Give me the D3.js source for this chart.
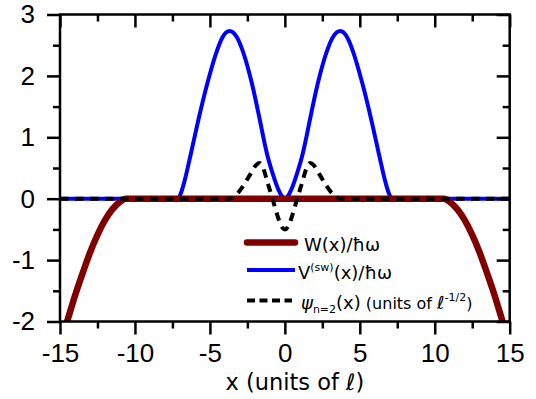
<!DOCTYPE html>
<html>
<head>
<meta charset="utf-8">
<script src="https://cdn.jsdelivr.net/npm/d3@7"></script>
<style>
  body { margin: 0; background: #fff; }
  .tick-label { font-family: "Liberation Sans", Arial, sans-serif; font-size: 26px; fill: #000; }
  .legend-text, .axis-title { font-family: "DejaVu Sans", Verdana, sans-serif; fill: #000; }
</style>
</head>
<body>
<div id="chart"></div>
<script>
// tick values
const xTicks = [-15, -10, -5, 0, 5, 10, 15];
const xMinorTicks = [-12.5, -7.5, -2.5, 2.5, 7.5, 12.5];
const yTicks = [-2, -1, 0, 1, 2, 3];
const yMinorTicks = [-1.5, -0.5, 0.5, 1.5, 2.5];

// V^(sw)(x)/hbar omega
const vX = [-15, -7.15, -6.95, -6.7, -6.3, -5.8, -5.2, -4.6, -4.2, -3.7, -3.2, -2.8, -2.2, -1.7, -1.45, -1.2, -0.8, -0.4, -0.2, 0,
  0.2, 0.4, 0.8, 1.2, 1.45, 1.7, 2.2, 2.8, 3.2, 3.7, 4.2, 4.6, 5.2, 5.8, 6.3, 6.7, 6.95, 7.15, 15];
const vY = [0, 0, 0.08, 0.28, 0.70, 1.25, 1.85, 2.36, 2.61, 2.73, 2.63, 2.40, 1.88, 1.32, 1.02, 0.74, 0.40, 0.13, 0.04, 0,
  0.04, 0.13, 0.40, 0.74, 1.02, 1.32, 1.88, 2.40, 2.63, 2.73, 2.61, 2.36, 1.85, 1.25, 0.70, 0.28, 0.08, 0, 0];

// psi_{n=2}(x)
const psiX = [-15, -3.7, -3.3, -2.8, -2.3, -1.95, -1.7, -1.45, -1.15, -0.8, -0.5, -0.25, 0,
  0.25, 0.5, 0.8, 1.15, 1.45, 1.7, 1.95, 2.3, 2.8, 3.3, 3.7, 15];
const psiY = [0, 0, 0.05, 0.2, 0.40, 0.54, 0.58, 0.50, 0.26, -0.02, -0.27, -0.44, -0.5,
  -0.44, -0.27, -0.02, 0.26, 0.50, 0.58, 0.54, 0.40, 0.2, 0.05, 0, 0];

// W(x)/hbar omega
const wX = [-15, -14.5, -14.0, -13.5, -13.0, -12.5, -12.0, -11.5, -11.0, -10.6,
  10.6, 11.0, 11.5, 12.0, 12.5, 13.0, 13.5, 14.0, 14.5, 15];
const wY = [-2.38, -1.98, -1.58, -1.22, -0.88, -0.59, -0.35, -0.17, -0.05, 0,
  0, -0.05, -0.17, -0.35, -0.59, -0.88, -1.22, -1.58, -1.98, -2.38];

const margin = { top: 14.5, right: 26.3, bottom: 77.5, left: 60 };
const width = 536 - margin.left - margin.right;
const height = 399 - margin.top - margin.bottom;

const svg = d3.select("#chart")
  .append("svg")
  .attr("width", 536)
  .attr("height", 399)
  .append("g")
  .attr("transform", `translate(${margin.left},${margin.top})`);

const x = d3.scaleLinear().domain([-15, 15]).range([0, width]);
const y = d3.scaleLinear().domain([-2, 3]).range([height, 0]);

svg.append("clipPath")
  .attr("id", "plot-clip")
  .append("rect")
  .attr("width", width)
  .attr("height", height);

const line = d3.line()
  .x(d => x(d[0]))
  .y(d => y(d[1]))
  .curve(d3.curveMonotoneX);

const plot = svg.append("g").attr("clip-path", "url(#plot-clip)");

plot.append("path")
  .datum(d3.zip(vX, vY))
  .attr("d", line)
  .attr("fill", "none")
  .attr("stroke", "#0000ff")
  .attr("stroke-width", 4);

plot.append("path")
  .datum(d3.zip(wX, wY))
  .attr("d", line)
  .attr("fill", "none")
  .attr("stroke", "#800000")
  .attr("stroke-width", 6.5);

plot.append("path")
  .datum(d3.zip(psiX, psiY))
  .attr("d", line)
  .attr("fill", "none")
  .attr("stroke", "#000")
  .attr("stroke-width", 4)
  .attr("stroke-dasharray", "8.5,6.5");

// axes: major and minor ticks on all four sides
function styleAxis(g) {
  g.select(".domain").remove();
  g.selectAll(".tick line").attr("stroke", "#000").attr("stroke-width", 2.5);
}

const plain = d => String(d);

svg.append("g")
  .attr("transform", `translate(0,${height})`)
  .call(d3.axisBottom(x).tickValues(xTicks).tickSize(13).tickPadding(9).tickFormat(plain))
  .call(styleAxis)
  .selectAll("text").attr("class", "tick-label");

svg.append("g")
  .attr("transform", `translate(0,${height})`)
  .call(d3.axisBottom(x).tickValues(xMinorTicks).tickSize(7).tickFormat(""))
  .call(styleAxis);

svg.append("g")
  .call(d3.axisTop(x).tickValues(xTicks).tickSize(-13).tickFormat(""))
  .call(styleAxis);

svg.append("g")
  .call(d3.axisTop(x).tickValues(xMinorTicks).tickSize(-7).tickFormat(""))
  .call(styleAxis);

svg.append("g")
  .call(d3.axisLeft(y).tickValues(yTicks).tickSize(13).tickPadding(12).tickFormat(plain))
  .call(styleAxis)
  .selectAll("text").attr("class", "tick-label");

svg.append("g")
  .call(d3.axisLeft(y).tickValues(yMinorTicks).tickSize(7).tickFormat(""))
  .call(styleAxis);

svg.append("g")
  .attr("transform", `translate(${width},0)`)
  .call(d3.axisRight(y).tickValues(yTicks).tickSize(-13).tickFormat(""))
  .call(styleAxis);

svg.append("g")
  .attr("transform", `translate(${width},0)`)
  .call(d3.axisRight(y).tickValues(yMinorTicks).tickSize(-7).tickFormat(""))
  .call(styleAxis);

svg.append("rect")
  .attr("width", width)
  .attr("height", height)
  .attr("fill", "none")
  .attr("stroke", "#000")
  .attr("stroke-width", 2.5);

// x axis title
const title = svg.append("text")
  .attr("class", "axis-title")
  .attr("x", width / 2 + 10)
  .attr("y", height + 68.5)
  .attr("text-anchor", "middle")
  .attr("font-size", 22.5);
title.append("tspan").text("x (units of ");
title.append("tspan").attr("font-style", "italic").text("\u2113");
title.append("tspan").text(")");

// legend
const legend = svg.append("g").attr("transform", "translate(187,0)");

legend.append("line")
  .attr("x1", 0).attr("x2", 48).attr("y1", 228).attr("y2", 228)
  .attr("stroke", "#800000").attr("stroke-width", 6.5).attr("stroke-linecap", "round");
legend.append("line")
  .attr("x1", 0).attr("x2", 48).attr("y1", 255.5).attr("y2", 255.5)
  .attr("stroke", "#0000ff").attr("stroke-width", 4);
legend.append("line")
  .attr("x1", 0).attr("x2", 45).attr("y1", 286).attr("y2", 286)
  .attr("stroke", "#000").attr("stroke-width", 4).attr("stroke-dasharray", "8,4.5");

const t1 = legend.append("text").attr("class", "legend-text")
  .attr("x", 57).attr("y", 236).attr("font-size", 18);
t1.text("W(x)/\u0127\u03c9");

const t2 = legend.append("text").attr("class", "legend-text")
  .attr("x", 51).attr("y", 264.5).attr("font-size", 18);
t2.append("tspan").text("V");
t2.append("tspan").attr("font-size", 11).attr("dy", -8).text("(sw)");
t2.append("tspan").attr("dy", 8).text("(x)/\u0127\u03c9");

const t3 = legend.append("text").attr("class", "legend-text")
  .attr("x", 54).attr("y", 294).attr("font-size", 18);
t3.append("tspan").attr("font-style", "italic").text("\u03c8");
t3.append("tspan").attr("font-size", 11).attr("dy", 4).text("n=2");
t3.append("tspan").attr("dy", -4).text("(x)");
t3.append("tspan").attr("font-size", 16).text(" (units of ");
t3.append("tspan").attr("font-style", "italic").text("\u2113");
t3.append("tspan").attr("font-size", 11).attr("dy", -8).text("-1/2");
t3.append("tspan").attr("font-size", 16).attr("dy", 8).text(")");
</script>
</body>
</html>
